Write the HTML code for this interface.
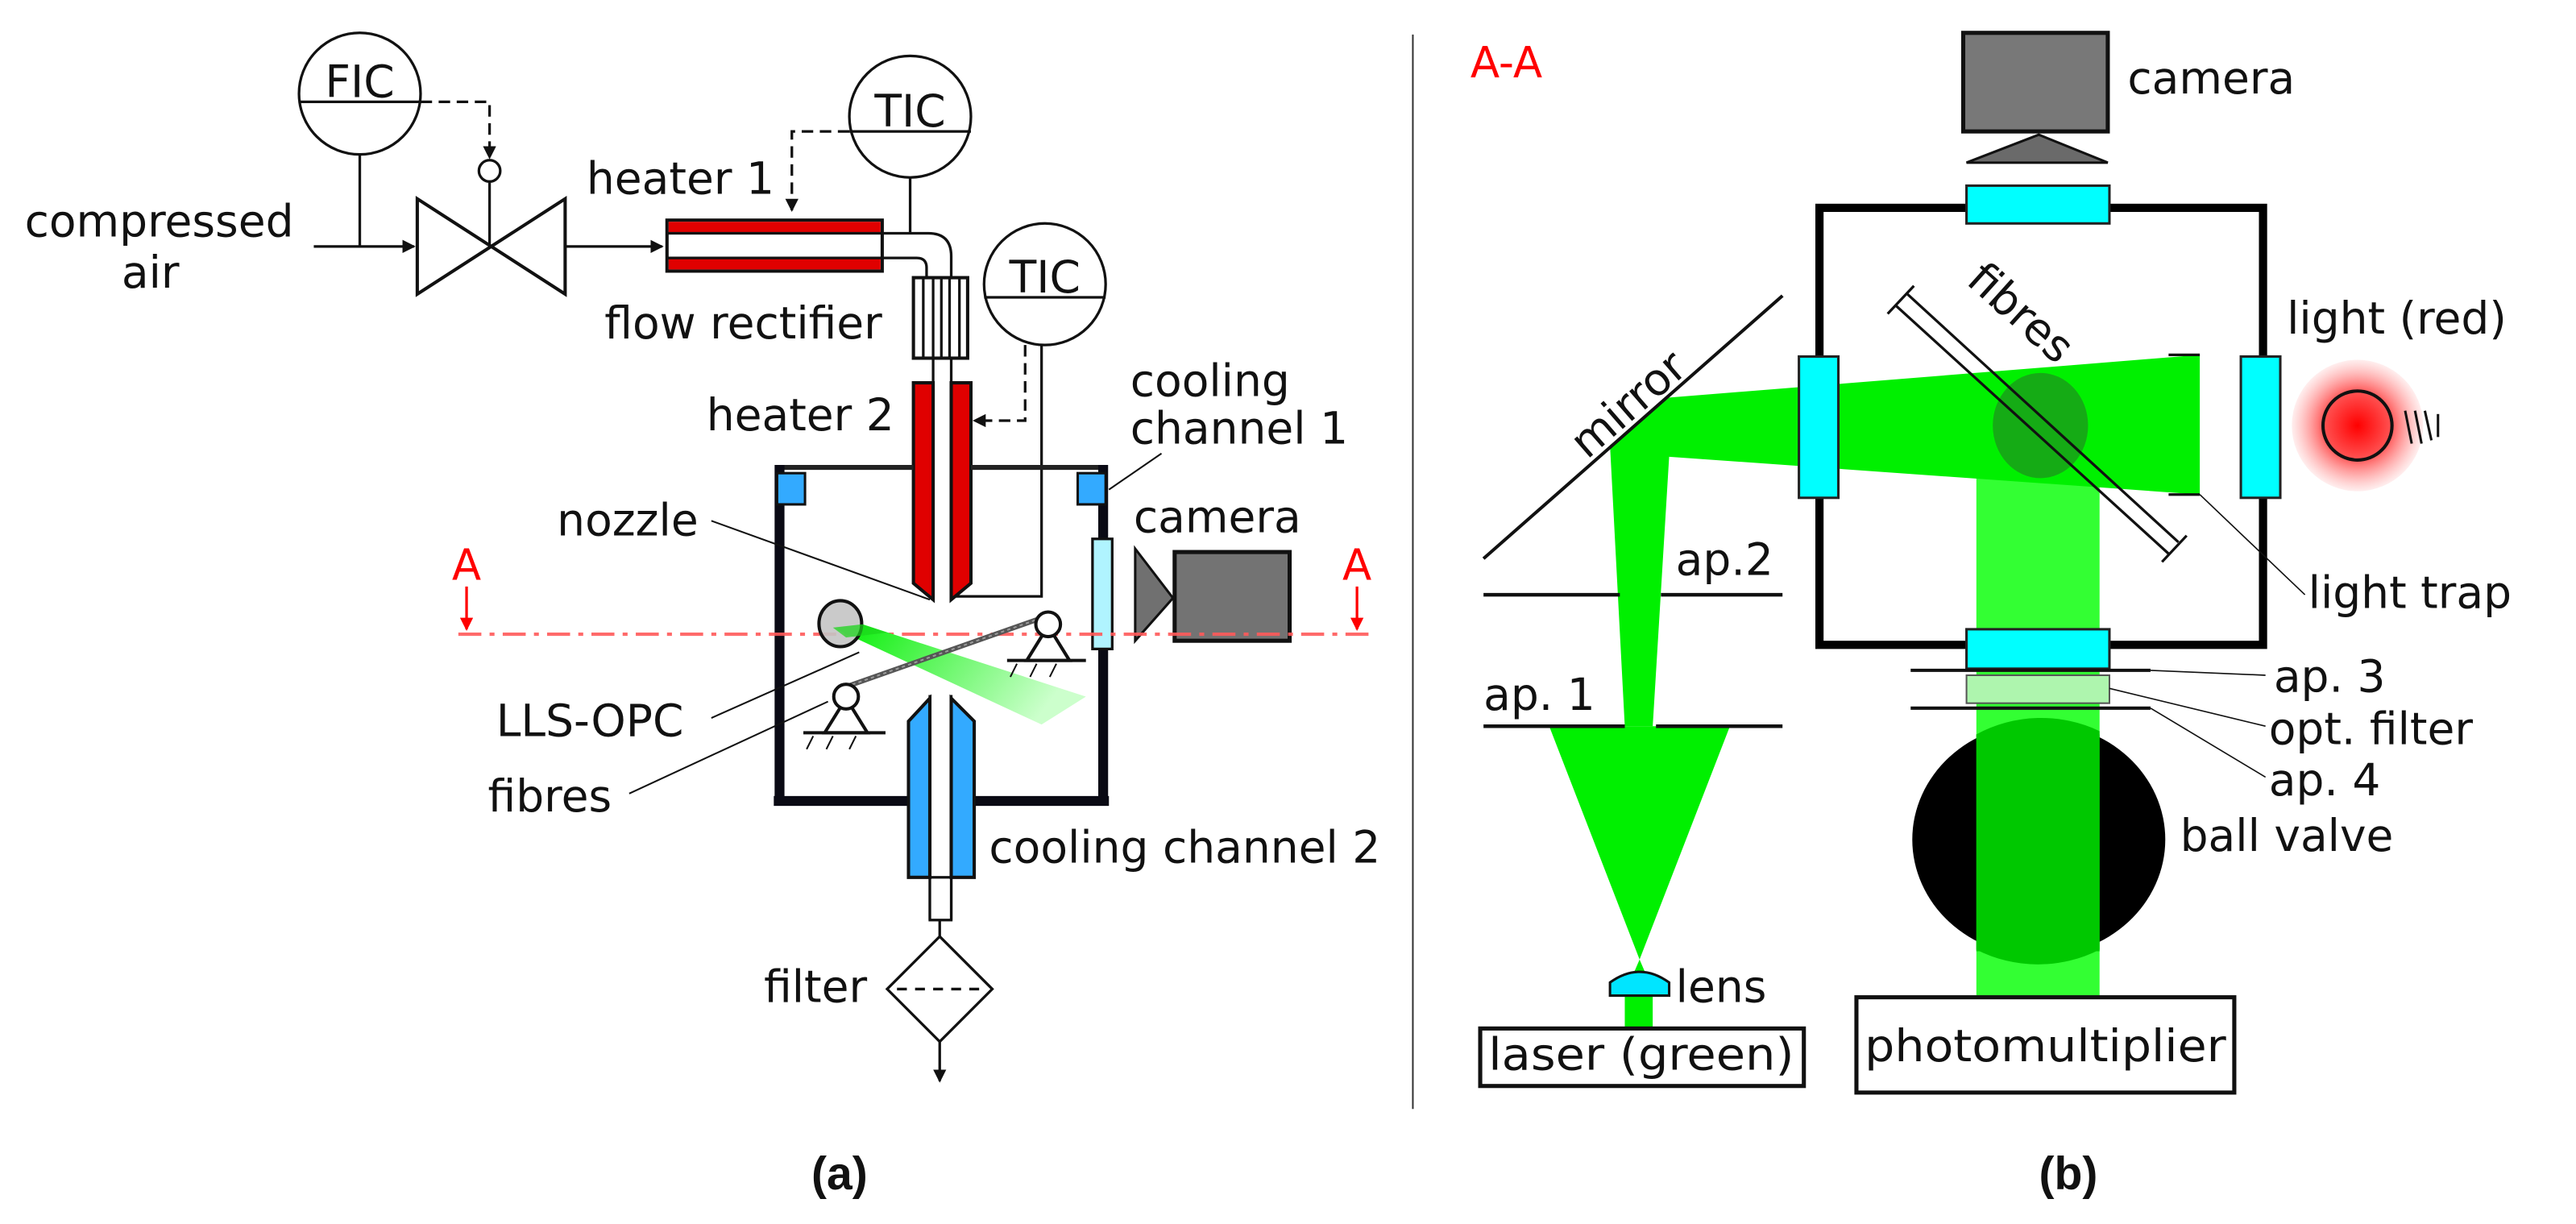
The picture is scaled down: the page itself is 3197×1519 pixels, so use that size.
<!DOCTYPE html>
<html><head><meta charset="utf-8"><style>
html,body{margin:0;padding:0;background:#fff;}
svg{display:block;}
text{font-family:"DejaVu Sans","Liberation Sans",sans-serif;font-size:27px;fill:#111;}
</style></head><body>
<svg width="3197" height="1519" viewBox="0 0 1568 745" preserveAspectRatio="none" xmlns="http://www.w3.org/2000/svg">
<defs>
<linearGradient id="gb" x1="0" y1="0" x2="1" y2="0.3"><stop offset="0" stop-color="#00ee00"/><stop offset="1" stop-color="#ccffcc"/></linearGradient>
<radialGradient id="rg"><stop offset="0" stop-color="#ff0000"/><stop offset="0.5" stop-color="#ff5050"/><stop offset="1" stop-color="#ff9090" stop-opacity="0.15"/></radialGradient>
<marker id="ar" markerWidth="8" markerHeight="8" refX="7" refY="4" orient="auto" markerUnits="userSpaceOnUse"><path d="M0,0 L8,4 L0,8 z" fill="#111"/></marker>
<marker id="arr" markerWidth="8" markerHeight="8" refX="7" refY="4" orient="auto" markerUnits="userSpaceOnUse"><path d="M0,0 L8,4 L0,8 z" fill="#f00"/></marker>
</defs>

<!-- ===== Panel (a) ===== -->
<g stroke="#111" fill="none" stroke-width="1.6">
<circle cx="219" cy="57" r="37" fill="#fff"/>
<line x1="182" y1="62" x2="256" y2="62"/>
<line x1="219" y1="94" x2="219" y2="150"/>
<polyline points="256,62 298,62 298,96" stroke-dasharray="7,4" marker-end="url(#ar)"/>
<circle cx="298" cy="104" r="6.5" fill="#fff"/>
<line x1="298" y1="111" x2="298" y2="150"/>
<path d="M254,121 L254,179 L344,121 L344,179 Z" fill="#fff" stroke-width="2"/>
<line x1="191" y1="150" x2="252" y2="150" marker-end="url(#ar)"/>
<line x1="344" y1="150" x2="403" y2="150" marker-end="url(#ar)"/>
<rect x="406" y="134" width="131" height="31" fill="#fff" stroke-width="2"/>
<rect x="407" y="135" width="129" height="7" fill="#e00000" stroke="none"/>
<rect x="407" y="157" width="129" height="7" fill="#e00000" stroke="none"/>
<line x1="406" y1="142" x2="537" y2="142"/>
<line x1="406" y1="157" x2="537" y2="157"/>
<path d="M537,142 H565 Q579,142 579,156 V169"/>
<path d="M537,157 H558 Q564,157 564,163 V169"/>
<circle cx="554" cy="71" r="37" fill="#fff"/>
<line x1="517" y1="80" x2="591" y2="80"/>
<line x1="554" y1="108" x2="554" y2="142"/>
<polyline points="517,80 482,80 482,128" stroke-dasharray="7,4" marker-end="url(#ar)"/>
<rect x="556" y="169" width="33" height="49" fill="#fff" stroke-width="2"/>
<line x1="562" y1="169" x2="562" y2="218"/><line x1="568" y1="169" x2="568" y2="218"/><line x1="573" y1="169" x2="573" y2="218"/><line x1="578" y1="169" x2="578" y2="218"/><line x1="584" y1="169" x2="584" y2="218"/>
<circle cx="636" cy="173" r="37" fill="#fff"/>
<line x1="599" y1="181" x2="673" y2="181"/>
<polyline points="634,210 634,363 581,363"/>
<polyline points="624,210 624,256 593,256" stroke-dasharray="7,4" marker-end="url(#ar)"/>
</g>
<line x1="568" y1="218" x2="568" y2="365" stroke="#111" stroke-width="1.6"/>
<line x1="579" y1="218" x2="579" y2="365" stroke="#111" stroke-width="1.6"/>
<path d="M556,233 H568 V365 L556,355 Z" fill="#e00000" stroke="#111" stroke-width="2"/>
<path d="M579,233 H591 V355 L579,365 Z" fill="#e00000" stroke="#111" stroke-width="2"/>
<line x1="472" y1="284.5" x2="556" y2="284.5" stroke="#222" stroke-width="3"/>
<line x1="591" y1="284.5" x2="674" y2="284.5" stroke="#222" stroke-width="3"/>
<line x1="474.5" y1="283" x2="474.5" y2="490" stroke="#0a0a14" stroke-width="6"/>
<line x1="671.5" y1="283" x2="671.5" y2="490" stroke="#0a0a14" stroke-width="6"/>
<line x1="471" y1="487.5" x2="553" y2="487.5" stroke="#0a0a14" stroke-width="6"/>
<line x1="593" y1="487.5" x2="675" y2="487.5" stroke="#0a0a14" stroke-width="6"/>
<rect x="473" y="288" width="17" height="19" fill="#33aaff" stroke="#111" stroke-width="1.5"/>
<rect x="656" y="288" width="17" height="19" fill="#33aaff" stroke="#111" stroke-width="1.5"/>
<rect x="665" y="328" width="12" height="67" fill="#b0f4ff" stroke="#111" stroke-width="1.6"/>
<path d="M691,334 L714,364 L691,390 Z" fill="#707070" stroke="#111" stroke-width="1.5"/>
<rect x="715" y="336" width="70" height="54" fill="#737373" stroke="#111" stroke-width="2.5"/>
<line x1="566" y1="423" x2="566" y2="560" stroke="#111" stroke-width="1.6"/>
<line x1="579" y1="423" x2="579" y2="560" stroke="#111" stroke-width="1.6"/>
<rect x="566" y="534" width="13" height="26" fill="#fff" stroke="#111" stroke-width="1.6"/>
<path d="M553,439 L566,425 V534 H553 Z" fill="#33aaff" stroke="#111" stroke-width="2"/>
<path d="M579,425 L593,439 V534 H579 Z" fill="#33aaff" stroke="#111" stroke-width="2"/>
<line x1="572" y1="560" x2="572" y2="570" stroke="#111" stroke-width="1.6"/>
<path d="M572,570 L604,602 L572,634 L540,602 Z" fill="#fff" stroke="#111" stroke-width="1.6"/>
<line x1="546" y1="602" x2="598" y2="602" stroke="#111" stroke-width="1.6" stroke-dasharray="6,5"/>
<line x1="572" y1="634" x2="572" y2="658" stroke="#111" stroke-width="1.6" marker-end="url(#ar)"/>
<line x1="279" y1="386" x2="835" y2="386" stroke="#ff5a5a" stroke-width="2" stroke-dasharray="14,5,3,5" opacity="0.9"/>
<line x1="284" y1="357" x2="284" y2="383" stroke="#f00" stroke-width="1.6" marker-end="url(#arr)"/>
<line x1="826" y1="357" x2="826" y2="383" stroke="#f00" stroke-width="1.6" marker-end="url(#arr)"/>
<text x="284" y="353" text-anchor="middle" style="fill:#f00;font-size:26px">A</text>
<text x="826" y="353" text-anchor="middle" style="fill:#f00;font-size:26px">A</text>
<polygon points="507,382 525,380 661,424 634,441" fill="url(#gb)"/>
<ellipse cx="511.5" cy="379.6" rx="13" ry="14" fill="#c4c4c4" stroke="#111" stroke-width="2" fill-opacity="0.9"/>
<polygon points="507,382 525,380 540,385 515,388" fill="#1bd51b" opacity="0.7"/>
<line x1="515" y1="418" x2="640" y2="374" stroke="#555" stroke-width="3"/>
<line x1="515" y1="418" x2="640" y2="374" stroke="#999" stroke-width="1" stroke-dasharray="2,2"/>
<g stroke="#111" stroke-width="2" fill="#fff">
<path d="M638,381 L625,402 L651,402 Z"/><circle cx="638" cy="380" r="7.5"/>
<line x1="613" y1="402" x2="661" y2="402"/>
<path d="M515,425 L502,446 L528,446 Z"/><circle cx="515" cy="424" r="7.5"/>
<line x1="489" y1="446" x2="539" y2="446"/>
</g>
<g stroke="#111" stroke-width="1">
<line x1="619" y1="404" x2="615" y2="412"/><line x1="631" y1="404" x2="627" y2="412"/><line x1="643" y1="404" x2="639" y2="412"/>
<line x1="495" y1="448" x2="491" y2="456"/><line x1="507" y1="448" x2="503" y2="456"/><line x1="521" y1="448" x2="517" y2="456"/>
</g>
<g stroke="#111" stroke-width="1">
<line x1="433" y1="317" x2="566" y2="365"/>
<line x1="433" y1="437" x2="523" y2="397"/>
<line x1="383" y1="483" x2="504" y2="427"/>
<line x1="707" y1="276" x2="675" y2="298"/>
</g>
<text x="15" y="144">compressed</text>
<text x="74" y="175">air</text>
<text x="219" y="59" text-anchor="middle">FIC</text>
<text x="554" y="77" text-anchor="middle">TIC</text>
<text x="636" y="178" text-anchor="middle">TIC</text>
<text x="357" y="118">heater 1</text>
<text x="368" y="206">flow rectifier</text>
<text x="430" y="262">heater 2</text>
<text x="688" y="241">cooling</text>
<text x="688" y="270">channel 1</text>
<text x="690" y="324">camera</text>
<text x="339" y="326">nozzle</text>
<text x="302" y="448">LLS-OPC</text>
<text x="297" y="494">fibres</text>
<text x="602" y="525">cooling channel 2</text>
<text x="465" y="610">filter</text>
<text x="511" y="724" text-anchor="middle" style="font-family:'Liberation Sans',sans-serif;font-weight:bold;font-size:28px">(a)</text>

<line x1="860" y1="21" x2="860" y2="675" stroke="#333" stroke-width="1"/>

<!-- ===== Panel (b) ===== -->
<text x="895" y="47" style="fill:#f00;font-size:26px">A-A</text>
<rect x="1195" y="20" width="88" height="60" fill="#787878" stroke="#111" stroke-width="2.5"/>
<path d="M1197,99 L1241,82 L1283,99 Z" fill="#6a6a6a" stroke="#111" stroke-width="1.5"/>
<text x="1295" y="57">camera</text>
<rect x="1203" y="285" width="75" height="322" fill="#33ff33"/>
<ellipse cx="1241" cy="511" rx="77" ry="71" fill="#000"/>
<path d="M1203,447 A77,71 0 0 1 1278,445 V578 A77,71 0 0 1 1203,578 Z" fill="#00c800"/>
<rect x="1203" y="447" width="75" height="132" fill="#00c800"/>
<polygon points="989,442 1006,442 1016,278 1339,301 1339,216 1016,242 980,271" fill="#00f000"/>
<ellipse cx="1242" cy="259" rx="29" ry="32" fill="#1a9a1a" opacity="0.8"/>
<polygon points="943,442 1053,442 998,584" fill="#00f000"/>
<polygon points="998,584 992,598 1004,598" fill="#00f000"/>
<rect x="989" y="604" width="17" height="23" fill="#00f000"/>
<rect x="1107.5" y="126.5" width="270" height="266" fill="none" stroke="#000" stroke-width="5"/>
<rect x="1197" y="113" width="87" height="23" fill="#00ffff" stroke="#222" stroke-width="1.5"/>
<rect x="1197" y="383" width="87" height="24" fill="#00ffff" stroke="#222" stroke-width="1.5"/>
<rect x="1095" y="217" width="24" height="86" fill="#00ffff" stroke="#222" stroke-width="1.5"/>
<rect x="1364" y="217" width="24" height="86" fill="#00ffff" stroke="#222" stroke-width="1.5"/>
<g stroke="#111" stroke-width="1.6" fill="none">
<line x1="1154" y1="186" x2="1320" y2="337"/>
<line x1="1161" y1="179" x2="1326" y2="330"/>
<line x1="1149" y1="191" x2="1165" y2="174"/>
<line x1="1316" y1="342" x2="1331" y2="326"/>
</g>
<text transform="translate(1196,172) rotate(42)">fibres</text>
<g stroke="#111" stroke-width="1.6">
<line x1="1320" y1="216" x2="1339" y2="216"/><line x1="1320" y1="301" x2="1339" y2="301"/>
</g>
<line x1="1339" y1="301" x2="1403" y2="362" stroke="#111" stroke-width="0.8"/>
<text x="1405" y="370">light trap</text>
<circle cx="1435" cy="259" r="40" fill="url(#rg)"/>
<circle cx="1435" cy="259" r="21" fill="none" stroke="#111" stroke-width="2"/>
<g stroke="#111" stroke-width="1.5"><line x1="1464" y1="250" x2="1468" y2="270"/><line x1="1470" y1="250" x2="1474" y2="270"/><line x1="1476" y1="250" x2="1480" y2="268"/><line x1="1484" y1="252" x2="1484" y2="266"/></g>
<text x="1392" y="203">light (red)</text>
<line x1="903" y1="340" x2="1085" y2="180" stroke="#111" stroke-width="2"/>
<text transform="translate(966,280) rotate(-41)">mirror</text>
<g stroke="#111" stroke-width="2.2">
<line x1="903" y1="362" x2="986" y2="362"/><line x1="1011" y1="362" x2="1085" y2="362"/>
<line x1="903" y1="442" x2="989" y2="442"/><line x1="1008" y1="442" x2="1085" y2="442"/>
</g>
<text x="1020" y="350">ap.2</text>
<text x="903" y="432">ap. 1</text>
<path d="M980,606 V598 Q998,585 1016,598 V606 Z" fill="#00e5ff" stroke="#111" stroke-width="1.5"/>
<text x="1020" y="610">lens</text>
<rect x="901" y="626" width="197" height="35" fill="#fff" stroke="#111" stroke-width="2.5"/>
<text x="999" y="651" text-anchor="middle" textLength="186" lengthAdjust="spacingAndGlyphs">laser (green)</text>
<rect x="1130" y="607" width="230" height="58" fill="#fff" stroke="#111" stroke-width="2.5"/>
<text x="1245" y="646" text-anchor="middle" textLength="220" lengthAdjust="spacingAndGlyphs">photomultiplier</text>
<g stroke="#111" stroke-width="2">
<line x1="1163" y1="408" x2="1309" y2="408"/>
<line x1="1163" y1="431" x2="1309" y2="431"/>
</g>
<rect x="1197" y="411" width="87" height="17" fill="#aef5ae" stroke="#555" stroke-width="1"/>
<g stroke="#111" stroke-width="0.8">
<line x1="1309" y1="408" x2="1379" y2="411"/>
<line x1="1284" y1="419" x2="1379" y2="442"/>
<line x1="1309" y1="431" x2="1379" y2="473"/>
</g>
<text x="1384" y="421">ap. 3</text>
<text x="1381" y="453">opt. filter</text>
<text x="1381" y="484">ap. 4</text>
<text x="1327" y="518">ball valve</text>
<text x="1259" y="724" text-anchor="middle" style="font-family:'Liberation Sans',sans-serif;font-weight:bold;font-size:28px">(b)</text>
</svg>
</body></html>
